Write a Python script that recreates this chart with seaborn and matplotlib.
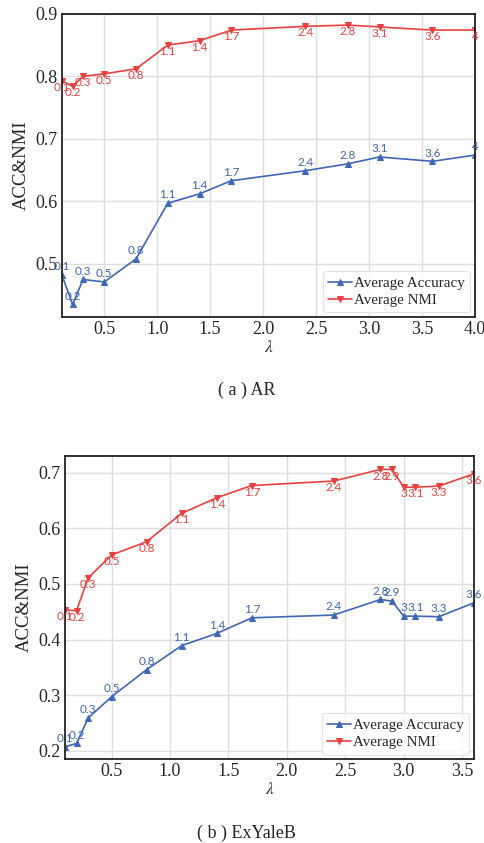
import matplotlib
matplotlib.use("Agg")
import matplotlib.pyplot as plt
import seaborn as sns
import pandas as pd

# ---- data ----
ar_lambda = [0.1, 0.2, 0.3, 0.5, 0.8, 1.1, 1.4, 1.7, 2.4, 2.8, 3.1, 3.6, 4.0]
ar_acc = [0.482, 0.435, 0.475, 0.471, 0.508, 0.597, 0.612, 0.633, 0.649, 0.660, 0.671, 0.664, 0.674]
ar_nmi = [0.793, 0.784, 0.800, 0.804, 0.812, 0.850, 0.857, 0.874, 0.880, 0.882, 0.879, 0.874, 0.874]

yb_lambda = [0.1, 0.2, 0.3, 0.5, 0.8, 1.1, 1.4, 1.7, 2.4, 2.8, 2.9, 3.0, 3.1, 3.3, 3.6]
yb_acc = [0.207, 0.213, 0.259, 0.297, 0.346, 0.389, 0.411, 0.439, 0.444, 0.472, 0.469, 0.442, 0.442, 0.441, 0.466]
yb_nmi = [0.453, 0.452, 0.511, 0.552, 0.576, 0.627, 0.655, 0.677, 0.685, 0.706, 0.706, 0.674, 0.674, 0.676, 0.698]

series_names = ["Average Accuracy", "Average NMI"]
captions = ["( a ) AR", "( b ) ExYaleB"]

BLUE = "#3f66b7"
RED = "#e8413f"

sns.set_theme(style="whitegrid")
plt.rcParams["font.family"] = ["Liberation Serif", "DejaVu Serif"]
plt.rcParams["mathtext.fontset"] = "stix"

fig = plt.figure(figsize=(4.84, 8.43), dpi=100)
ax1 = fig.add_axes([0.128, 0.624, 0.853, 0.3596])
ax2 = fig.add_axes([0.134, 0.0996, 0.845, 0.3594])


def fmt(v):
    return "%g" % v


def draw(ax, lam, acc, nmi, xlim, ylim, yticks):
    df = pd.DataFrame({"lam": lam, "acc": acc, "nmi": nmi})
    sns.lineplot(data=df, x="lam", y="acc", ax=ax, color=BLUE, marker="^",
                 markersize=4.5, markeredgecolor=BLUE, linewidth=1.2,
                 label=series_names[0])
    sns.lineplot(data=df, x="lam", y="nmi", ax=ax, color=RED, marker="v",
                 markersize=4.5, markeredgecolor=RED, linewidth=1.2,
                 label=series_names[1])
    for x, y in zip(lam, acc):
        ax.annotate(fmt(x), (x, y), xytext=(0, 2), textcoords="offset points",
                    ha="center", va="bottom", fontsize=8.5, color=BLUE,
                    family=["Lato", "DejaVu Sans"], clip_on=False)
    for x, y in zip(lam, nmi):
        ax.annotate(fmt(x), (x, y), xytext=(0, -0.8), textcoords="offset points",
                    ha="center", va="top", fontsize=8.5, color=RED,
                    family=["Lato", "DejaVu Sans"], clip_on=False)
    ax.set_xlim(*xlim)
    ax.set_ylim(*ylim)
    ax.set_yticks(yticks)
    ax.set_xlabel(r"$\lambda$", fontsize=12.5, labelpad=1)
    ax.set_ylabel("ACC&NMI", fontsize=13.5, labelpad=4)
    ax.tick_params(axis="both", labelsize=13, pad=3, length=0)
    ax.grid(True, color="#dedede", linewidth=1.0)
    for s in ax.spines.values():
        s.set_color("#222222")
        s.set_linewidth(1.3)
    leg = ax.legend(loc="lower right", fontsize=10.8, frameon=True,
                    handlelength=1.6, handletextpad=0.15, borderpad=0.35,
                    labelspacing=0.25, borderaxespad=0.3)
    leg.get_frame().set_edgecolor("#dddddd")
    leg.get_frame().set_linewidth(0.8)


draw(ax1, ar_lambda, ar_acc, ar_nmi, (0.1, 4.0), (0.415, 0.9),
     [0.5, 0.6, 0.7, 0.8, 0.9])
ax1.set_xticks([0.5, 1.0, 1.5, 2.0, 2.5, 3.0, 3.5, 4.0])

draw(ax2, yb_lambda, yb_acc, yb_nmi, (0.1, 3.6), (0.185, 0.73),
     [0.2, 0.3, 0.4, 0.5, 0.6, 0.7])
ax2.set_xticks([0.5, 1.0, 1.5, 2.0, 2.5, 3.0, 3.5])

fig.text(0.51, 1 - 390 / 843, captions[0], ha="center", va="center", fontsize=13)
fig.text(0.51, 1 - 833 / 843, captions[1], ha="center", va="center", fontsize=13)

fig.savefig("out.png", dpi=100)
